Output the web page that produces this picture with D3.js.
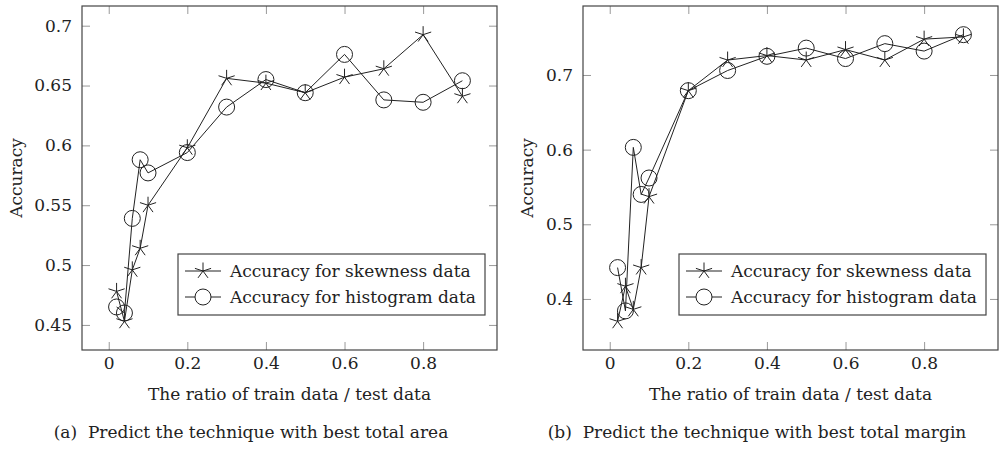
<!DOCTYPE html>
<html>
<head>
<meta charset="utf-8">
<script src="https://cdn.jsdelivr.net/npm/d3@7/dist/d3.min.js"></script>
<style>
  body { margin: 0; background: #fff; }
  .tick line { stroke: #999; }
  .domain { display: none; }
</style>
</head>
<body>
<script>
var ratios = [0.02, 0.04, 0.06, 0.08, 0.1, 0.2, 0.3, 0.4, 0.5, 0.6, 0.7, 0.8, 0.9];

var areaSkew = [0.478, 0.453, 0.496, 0.514, 0.550, 0.598, 0.656, 0.652, 0.644, 0.657, 0.664, 0.6925, 0.641];
var areaHist = [0.465, 0.460, 0.539, 0.588, 0.577, 0.594, 0.632, 0.655, 0.644, 0.676, 0.638, 0.636, 0.654];

var marginSkew = [0.370, 0.417, 0.386, 0.442, 0.537, 0.679, 0.720, 0.726, 0.720, 0.734, 0.720, 0.748, 0.751];
var marginHist = [0.442, 0.384, 0.603, 0.540, 0.562, 0.679, 0.706, 0.725, 0.736, 0.722, 0.742, 0.732, 0.754];

var xTicks = [0, 0.2, 0.4, 0.6, 0.8];
var areaYTicks = [0.45, 0.5, 0.55, 0.6, 0.65, 0.7];
var marginYTicks = [0.4, 0.5, 0.6, 0.7];

var seriesNames = ['Accuracy for skewness data', 'Accuracy for histogram data'];
var captions = ['(a)\u00a0 Predict the technique with best total area', '(b)\u00a0 Predict the technique with best total margin'];

var FONT = "'DejaVu Serif', serif";

var svg = d3.select('body').append('svg')
  .attr('width', 1000)
  .attr('height', 450);

// pgfplots-like enlarged limits
function enlarge(ext) {
  var pad = (ext[1] - ext[0]) * 0.1;
  return [ext[0] - pad, ext[1] + pad];
}

function starPath(r) {
  var p = '';
  for (var k = 0; k < 5; k++) {
    var a = -Math.PI / 2 + k * 2 * Math.PI / 5;
    p += 'M0,0L' + (r * Math.cos(a)).toFixed(2) + ',' + (r * Math.sin(a)).toFixed(2);
  }
  return p;
}

function txt(sel, size) {
  return sel.attr('font-family', FONT).attr('font-size', size).attr('fill', '#222');
}

function drawPanel(opt) {
  var left = opt.left, right = opt.right, top = 6, bottom = 350;
  var g = svg.append('g');

  var x = d3.scaleLinear().domain(enlarge(d3.extent(ratios))).range([left, right]);
  var y = d3.scaleLinear()
    .domain(enlarge(d3.extent(opt.skew.concat(opt.hist))))
    .range([bottom, top]);

  g.append('g')
    .attr('transform', 'translate(0,' + bottom + ')')
    .call(d3.axisBottom(x).tickValues(xTicks).tickSize(-8).tickPadding(7).tickFormat(d3.format('')))
    .call(function(s) { txt(s, 17); txt(s.selectAll('text'), 17); });

  g.append('g')
    .attr('transform', 'translate(0,' + top + ')')
    .call(d3.axisTop(x).tickValues(xTicks).tickSize(-8).tickFormat(''));

  g.append('g')
    .attr('transform', 'translate(' + left + ',0)')
    .call(d3.axisLeft(y).tickValues(opt.yTicks).tickSize(-8).tickPadding(10).tickFormat(d3.format('')))
    .call(function(s) { txt(s, 17); txt(s.selectAll('text'), 17); });

  g.append('g')
    .attr('transform', 'translate(' + right + ',0)')
    .call(d3.axisRight(y).tickValues(opt.yTicks).tickSize(-8).tickFormat(''));

  g.append('rect')
    .attr('x', left).attr('y', top)
    .attr('width', right - left).attr('height', bottom - top)
    .attr('fill', 'none').attr('stroke', '#444').attr('stroke-width', 1.2);

  var line = d3.line()
    .x(function(d, i) { return x(ratios[i]); })
    .y(function(d) { return y(d); });

  // skewness series
  g.append('path').datum(opt.skew)
    .attr('d', line).attr('fill', 'none').attr('stroke', '#222').attr('stroke-width', 1);
  g.selectAll('.star').data(opt.skew).enter().append('path')
    .attr('class', 'star')
    .attr('transform', function(d, i) { return 'translate(' + x(ratios[i]) + ',' + y(d) + ')'; })
    .attr('d', starPath(8.5))
    .attr('fill', 'none').attr('stroke', '#222').attr('stroke-width', 1);

  // histogram series
  g.append('path').datum(opt.hist)
    .attr('d', line).attr('fill', 'none').attr('stroke', '#222').attr('stroke-width', 1);
  g.selectAll('.circ').data(opt.hist).enter().append('circle')
    .attr('class', 'circ')
    .attr('cx', function(d, i) { return x(ratios[i]); })
    .attr('cy', function(d) { return y(d); })
    .attr('r', 8)
    .attr('fill', 'none').attr('stroke', '#222').attr('stroke-width', 1);

  // axis labels
  txt(g.append('text'), 17)
    .attr('x', (left + right) / 2).attr('y', 400)
    .attr('text-anchor', 'middle')
    .text('The ratio of train data / test data');

  txt(g.append('text'), 17)
    .attr('transform', 'translate(' + opt.yLabelX + ',' + (top + bottom) / 2 + ') rotate(-90)')
    .attr('text-anchor', 'middle')
    .text('Accuracy');

  // legend
  var lx = right - 12 - 307, ly = 254;
  var legend = g.append('g').attr('transform', 'translate(' + lx + ',' + ly + ')');
  legend.append('rect')
    .attr('width', 307).attr('height', 61)
    .attr('fill', '#fff').attr('stroke', '#444').attr('stroke-width', 1.2);
  seriesNames.forEach(function(name, i) {
    var cy = 17 + i * 26;
    legend.append('line')
      .attr('x1', 7).attr('x2', 43).attr('y1', cy).attr('y2', cy)
      .attr('stroke', '#222');
    if (i === 0) {
      legend.append('path').attr('transform', 'translate(25,' + cy + ')')
        .attr('d', starPath(8.5)).attr('fill', 'none').attr('stroke', '#222');
    } else {
      legend.append('circle').attr('cx', 25).attr('cy', cy).attr('r', 8)
        .attr('fill', '#fff').attr('stroke', '#222');
    }
    txt(legend.append('text'), 17)
      .attr('x', 52).attr('y', cy + 6)
      .text(name);
  });

  // caption
  txt(g.append('text'), 17)
    .attr('x', opt.capX).attr('y', 438)
    .attr('text-anchor', 'middle')
    .text(opt.caption);
}

drawPanel({ left: 82, right: 497, skew: areaSkew, hist: areaHist, yTicks: areaYTicks,
  yLabelX: 22, capX: 251, caption: captions[0] });
drawPanel({ left: 583, right: 998, skew: marginSkew, hist: marginHist, yTicks: marginYTicks,
  yLabelX: 533, capX: 757, caption: captions[1] });
</script>
</body>
</html>
